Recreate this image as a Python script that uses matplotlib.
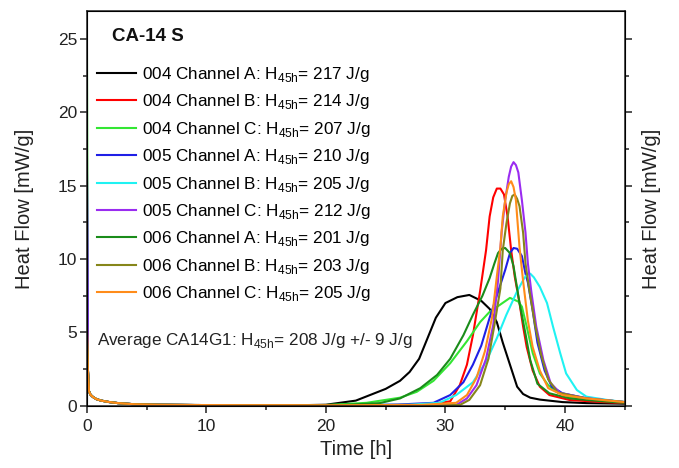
import matplotlib
matplotlib.use("Agg")
import matplotlib.pyplot as plt
from matplotlib.ticker import MultipleLocator

plt.rcParams['font.family'] = ['Liberation Sans', 'DejaVu Sans']
plt.rcParams['mathtext.fontset'] = 'custom'
plt.rcParams['mathtext.rm'] = 'Liberation Sans'

# channels, integrated heat after 45 h and colours
names = ["004 Channel A", "004 Channel B", "004 Channel C",
         "005 Channel A", "005 Channel B", "005 Channel C",
         "006 Channel A", "006 Channel B", "006 Channel C"]
enthalpy = [217, 214, 207, 210, 205, 212, 201, 203, 205]
colors = ["#000000", "#ff0000", "#33e633", "#1f1fe6", "#1ff2f2",
          "#9a2cf0", "#1a8c1a", "#86861a", "#ff8c1a"]

# initial wetting spike (same decay for all channels, different heights)
spike = [2.5, 4.0, 25.6, 16.5, 4.5, 17.8, 4.5, 5.8, 5.3]
t_decay = [0.08, 0.17, 0.3, 0.5, 0.8, 1.2, 1.8, 2.6, 4.0, 6.0, 9.0, 13.0, 17.0]
v_decay = [2.5, 1.0, 0.75, 0.6, 0.45, 0.35, 0.26, 0.18, 0.1, 0.07, 0.05, 0.04, 0.04]

# main hydration peak of each channel
t_004a = [18, 20, 22.5, 25.0, 26.2, 27.0, 27.8, 28.5, 29.2, 30.0, 31.0, 32.0,
          33.0, 33.7, 34.3, 34.8, 35.4, 36.0, 36.5, 37.1, 37.9, 39.8, 41.8, 45.0]
v_004a = [0.04, 0.07, 0.35, 1.15, 1.7, 2.3, 3.2, 4.6, 6.0, 7.0, 7.4, 7.55,
          7.15, 6.6, 5.7, 4.3, 2.8, 1.3, 0.8, 0.55, 0.42, 0.25, 0.18, 0.14]
t_004b = [20, 25, 28.5, 30.4, 31.2, 31.8, 32.3, 32.9, 33.4, 33.7, 34.0, 34.3,
          34.6, 34.9, 35.2, 35.5, 35.8, 36.2, 36.5, 36.8, 37.3, 37.9, 38.7,
          40.4, 43.2, 45.0]
v_004b = [0.03, 0.05, 0.1, 0.3, 1.4, 2.8, 4.8, 7.8, 10.6, 12.9, 14.2, 14.8,
          14.8, 14.4, 12.9, 10.6, 8.8, 7.0, 5.4, 4.0, 2.4, 1.3, 0.73,
          0.39, 0.25, 0.18]
t_004c = [20, 23.4, 26.2, 27.6, 29.0, 30.4, 31.8, 32.9, 33.7, 34.6, 35.4,
          36.1, 36.4, 36.8, 37.3, 37.9, 38.6, 39.3, 40.4, 43.2, 45.0]
v_004c = [0.05, 0.2, 0.55, 0.95, 1.7, 2.9, 4.4, 5.7, 6.4, 6.9, 7.35,
          7.1, 6.75, 5.4, 3.6, 2.2, 1.4, 0.95, 0.6, 0.4, 0.25]
t_005a = [20, 26, 29.0, 30.4, 31.5, 32.3, 33.0, 33.7, 34.3, 35.0, 35.4, 35.7,
          36.0, 36.4, 36.7, 36.9, 37.3, 37.7, 38.3, 38.9, 39.8, 41.8, 45.0]
v_005a = [0.03, 0.08, 0.2, 0.73, 1.6, 2.8, 4.1, 6.0, 7.5, 9.25, 10.4, 10.75,
          10.7, 10.2, 9.0, 8.4, 6.5, 4.3, 2.4, 1.3, 0.85, 0.5, 0.25]
t_005b = [20, 27, 29.5, 30.9, 32.3, 33.4, 34.3, 35.1, 36.0, 36.6, 36.85, 37.1,
          37.4, 37.9, 38.5, 39.0, 39.6, 40.1, 41.0, 41.8, 43.5, 45.0]
v_005b = [0.03, 0.07, 0.2, 0.73, 1.6, 3.0, 4.6, 6.2, 7.8, 8.7, 8.95, 9.0,
          8.75, 8.1, 7.0, 5.4, 3.6, 2.2, 1.07, 0.62, 0.4, 0.25]
t_005c = [20, 28, 30.9, 31.8, 32.6, 33.4, 34.0, 34.4, 34.7, 35.0, 35.3, 35.5,
          35.7, 35.9, 36.1, 36.4, 36.7, 36.9, 37.2, 37.6, 38.2, 38.8, 39.6,
          41.8, 45.0]
v_005c = [0.03, 0.03, 0.05, 0.5, 1.4, 3.2, 5.5, 8.5, 11.8, 14.0, 15.6, 16.3,
          16.6, 16.4, 15.9, 14.0, 11.8, 9.7, 7.7, 5.4, 3.1, 1.55, 0.87,
          0.52, 0.25]
t_006a = [20, 22, 24.5, 26.2, 27.9, 29.3, 30.4, 31.5, 32.3, 33.1, 33.7, 34.1,
          34.4, 34.7, 35.0, 35.4, 35.7, 36.2, 36.7, 37.1, 37.7, 38.7, 40.4,
          43.2, 45.0]
v_006a = [0.04, 0.08, 0.18, 0.5, 1.2, 2.1, 3.2, 4.8, 6.2, 7.5, 8.7, 9.7,
          10.4, 10.7, 10.75, 10.4, 9.5, 7.0, 4.9, 3.1, 1.5, 0.85, 0.5,
          0.3, 0.2]
t_006b = [20, 29, 31.2, 32.0, 32.9, 33.6, 34.1, 34.6, 34.8, 35.1, 35.4, 35.6,
          35.8, 36.0, 36.2, 36.5, 36.7, 37.0, 37.5, 38.0, 38.6, 39.4, 41.8, 45.0]
v_006b = [0.03, 0.03, 0.05, 0.4, 1.4, 3.2, 5.5, 8.0, 10.6, 12.4, 13.8, 14.3,
          14.4, 14.1, 13.6, 11.8, 9.7, 8.0, 5.5, 3.5, 1.8, 0.9, 0.5, 0.25]
t_006c = [20, 28, 30.9, 31.8, 32.6, 33.3, 33.9, 34.3, 34.6, 34.8, 35.1, 35.3,
          35.5, 35.7, 35.9, 36.0, 36.2, 36.5, 36.9, 37.3, 37.9, 38.6, 39.8,
          41.8, 45.0]
v_006c = [0.03, 0.06, 0.2, 0.73, 1.9, 3.7, 6.0, 8.8, 10.8, 12.9, 14.5, 15.1,
          15.3, 14.9, 14.0, 12.9, 10.8, 8.5, 5.8, 4.0, 2.4, 1.2, 0.73,
          0.5, 0.25]

t_main = [t_004a, t_004b, t_004c, t_005a, t_005b, t_005c, t_006a, t_006b, t_006c]
v_main = [v_004a, v_004b, v_004c, v_005a, v_005b, v_005c, v_006a, v_006b, v_006c]

fig = plt.figure(figsize=(6.79, 4.68), dpi=100)
ax = fig.add_axes([0.128, 0.133, 0.792, 0.8435])

for i in range(len(names)):
    t = [0.0] + t_decay + t_main[i]
    v = [spike[i]] + v_decay + v_main[i]
    lab = names[i] + ": H$_{\\mathrm{45h}}$= " + str(enthalpy[i]) + " J/g"
    ax.plot(t, v, color=colors[i], lw=1.5, label=lab)

ax.set_xlim(0, 45)
ax.set_ylim(0, 26.9)
ax.xaxis.set_major_locator(MultipleLocator(10))
ax.xaxis.set_minor_locator(MultipleLocator(5))
ax.yaxis.set_major_locator(MultipleLocator(5))
ax.yaxis.set_minor_locator(MultipleLocator(2.5))
ax.tick_params(which='both', direction='out', top=False, right=False,
               labelsize=12.5, colors='#222222', width=1.1)
ax.tick_params(which='major', length=4.7, pad=2.2)
ax.tick_params(which='minor', length=3)
ax.tick_params(axis='x', which='major', pad=4.5)
for s in ax.spines.values():
    s.set_linewidth(1.1)
    s.set_color('#222222')
ax.set_xlabel("Time [h]", fontsize=14.5, color='#222222', labelpad=5)
ax.set_ylabel("Heat Flow [mW/g]", fontsize=14.5, color='#222222', labelpad=17)

ax2 = ax.twinx()
ax2.set_ylim(ax.get_ylim())
ax2.yaxis.set_major_locator(MultipleLocator(5))
ax2.yaxis.set_minor_locator(MultipleLocator(2.5))
ax2.tick_params(which='both', direction='out', labelright=False,
                colors='#222222', width=1.1)
ax2.tick_params(which='major', length=4.7)
ax2.tick_params(which='minor', length=3)
ax2.set_ylabel("Heat Flow [mW/g]", fontsize=14.5, color='#222222', labelpad=8)

ax.text(0.046, 0.935, "CA-14 S", transform=ax.transAxes, fontsize=13.5,
        fontweight='bold', va='center', ha='left', color='#111111')
ax.legend(loc='upper left', bbox_to_anchor=(0.0186, 0.863), frameon=False,
          fontsize=12.3, borderaxespad=0, borderpad=0, handlelength=2.3,
          handletextpad=0.35, labelspacing=0.49)
ax.text(0.018, 0.1665, "Average CA14G1: H$_{\\mathrm{45h}}$= 208 J/g +/- 9 J/g",
        transform=ax.transAxes, fontsize=12.3, va='center', ha='left',
        color='#222222')

fig.savefig("out.png", dpi=100)
